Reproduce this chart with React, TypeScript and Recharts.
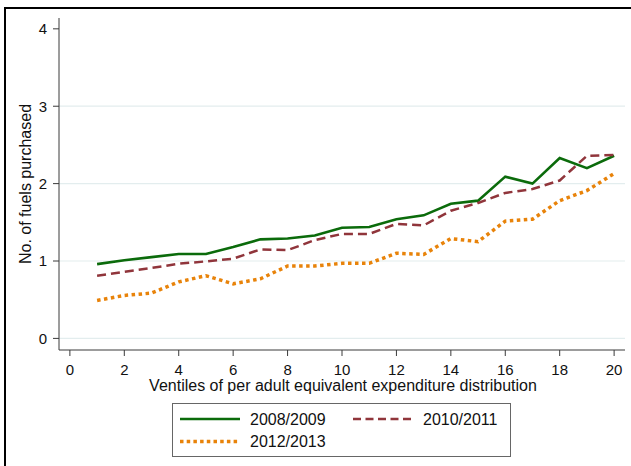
import React from 'react';
import { LineChart, Line, XAxis, YAxis, CartesianGrid, Legend } from 'recharts';

const ventiles = [1, 2, 3, 4, 5, 6, 7, 8, 9, 10, 11, 12, 13, 14, 15, 16, 17, 18, 19, 20];
const s0809 = [0.96, 1.01, 1.05, 1.09, 1.09, 1.18, 1.28, 1.29, 1.33, 1.43, 1.44, 1.54, 1.59, 1.74, 1.78, 2.09, 2.0, 2.33, 2.2, 2.36];
const s1011 = [0.81, 0.86, 0.91, 0.965, 0.995, 1.03, 1.15, 1.14, 1.27, 1.35, 1.35, 1.48, 1.46, 1.65, 1.75, 1.88, 1.93, 2.04, 2.36, 2.37];
const s1213 = [0.49, 0.555, 0.585, 0.73, 0.81, 0.705, 0.77, 0.935, 0.935, 0.97, 0.97, 1.1, 1.085, 1.29, 1.25, 1.515, 1.54, 1.78, 1.91, 2.13];
const xTicks = [0, 2, 4, 6, 8, 10, 12, 14, 16, 18, 20];
const yTicks = [0, 1, 2, 3, 4];
const gridValues = [0, 1, 2, 3];
const seriesNames = ['2008/2009', '2010/2011', '2012/2013'];

const data = ventiles.map((v, i) => ({ v, a: s0809[i], b: s1011[i], c: s1213[i] }));

const GREEN = '#0b6b0b';
const MAROON = '#90353b';
const ORANGE = '#e8830a';
const FONT = '"Liberation Sans", Arial, sans-serif';

const LegendBox = () => (
  <svg width={339} height={54} style={{ display: 'block' }}>
    <rect x={0.5} y={0.5} width={338} height={53} fill="#fff" stroke="#666" strokeWidth={1} />
    <line x1={8} y1={16} x2={68} y2={16} stroke={GREEN} strokeWidth={2.5} />
    <text x={78} y={21.5} fontSize={16} fontFamily={FONT} fill="#111">{seriesNames[0]}</text>
    <line x1={181} y1={16} x2={241} y2={16} stroke={MAROON} strokeWidth={2.5} strokeDasharray="8 4.5" />
    <text x={251} y={21.5} fontSize={16} fontFamily={FONT} fill="#111">{seriesNames[1]}</text>
    <line x1={8} y1={38.5} x2={68} y2={38.5} stroke={ORANGE} strokeWidth={3.5} strokeDasharray="3.5 3.2" />
    <text x={78} y={44} fontSize={16} fontFamily={FONT} fill="#111">{seriesNames[2]}</text>
  </svg>
);

const YTitle = () => (
  <text transform="rotate(-90)" x={-184} y={31} textAnchor="middle" fontSize={16} fontFamily={FONT} fill="#111">
    No. of fuels purchased
  </text>
);

const XTitle = () => (
  <text x={343} y={391} textAnchor="middle" fontSize={16} fontFamily={FONT} fill="#111">
    Ventiles of per adult equivalent expenditure distribution
  </text>
);

export default function App() {
  return (
    <div style={{ position: 'absolute', left: 0, top: 0, width: 631, height: 466, overflow: 'hidden', background: '#fff', fontFamily: FONT }}>
      <div style={{ position: 'absolute', left: 4, top: 7, width: 1000, height: 1000, borderTop: '2px solid #000', borderLeft: '2px solid #000' }} />
      <LineChart width={631} height={466} data={data} margin={{ top: 18, right: 6, left: 0, bottom: 0 }}>
        <CartesianGrid horizontal vertical={false} horizontalValues={gridValues} stroke="#e3edee" strokeWidth={1.2} />
        <XAxis
          dataKey="v"
          type="number"
          domain={[-0.4, 20.4]}
          ticks={xTicks}
          height={116}
          tickSize={6}
          tickMargin={8}
          stroke="#3a3a3a"
          tick={{ fill: '#111', fontSize: 15, fontFamily: FONT }}
          interval={0}
          allowDataOverflow
          label={<XTitle />}
        />
        <YAxis
          type="number"
          domain={[-0.15, 4.14]}
          ticks={yTicks}
          width={59}
          tickSize={6}
          tickMargin={6}
          stroke="#3a3a3a"
          tick={{ fill: '#111', fontSize: 15, fontFamily: FONT }}
          interval={0}
          allowDataOverflow
          label={<YTitle />}
        />
        <Line type="linear" dataKey="a" name={seriesNames[0]} stroke={GREEN} strokeWidth={2.6} dot={false} isAnimationActive={false} />
        <Line type="linear" dataKey="b" name={seriesNames[1]} stroke={MAROON} strokeWidth={2.5} strokeDasharray="9 5" dot={false} isAnimationActive={false} />
        <Line type="linear" dataKey="c" name={seriesNames[2]} stroke={ORANGE} strokeWidth={3.5} strokeDasharray="3.5 3.5" dot={false} isAnimationActive={false} />
        <Legend
          layout="horizontal"
          verticalAlign="middle"
          align="center"
          wrapperStyle={{ left: 172, top: 403, width: 339, height: 54 }}
          content={<LegendBox />}
        />
      </LineChart>
    </div>
  );
}
